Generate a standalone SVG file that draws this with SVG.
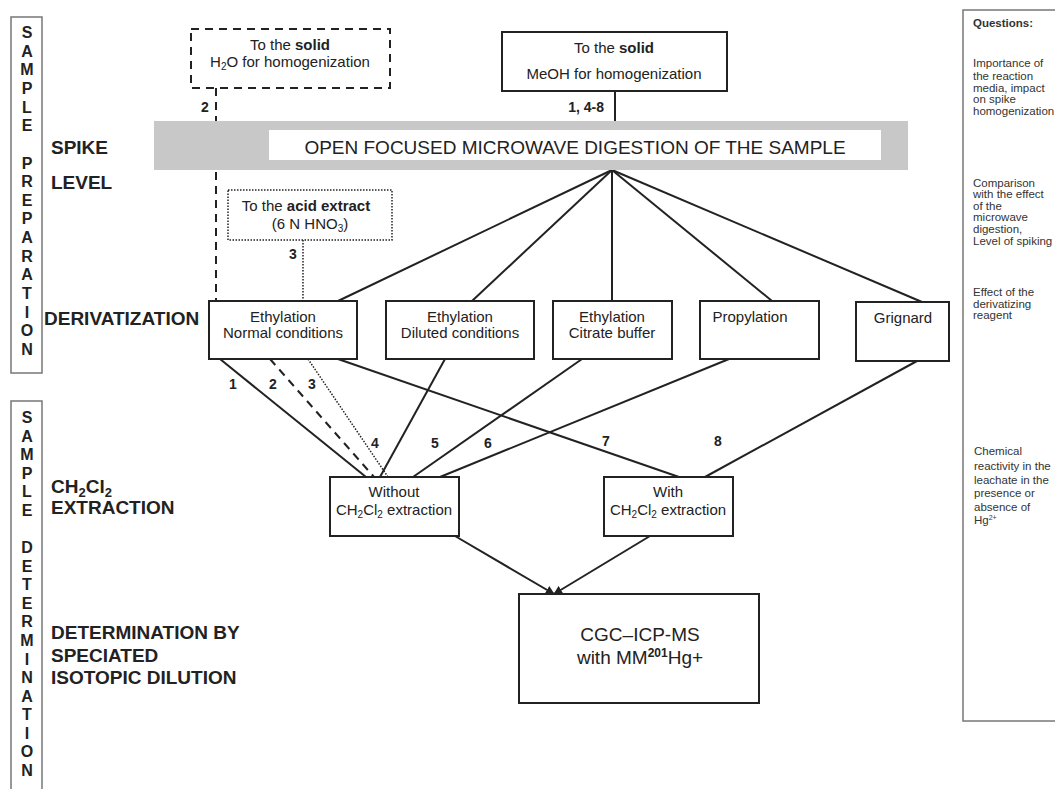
<svg xmlns="http://www.w3.org/2000/svg" width="1055" height="789" viewBox="0 0 1055 789">
<style>
text{font-family:"Liberation Sans",Arial,sans-serif;fill:#222}
.box{fill:#fff;stroke:#222;stroke-width:2}
.side{fill:none;stroke:#777;stroke-width:1.5}
.vl{font-size:16px;font-weight:bold;text-anchor:middle}
.sec{font-size:19px;font-weight:bold}
.bt{font-size:15px;text-anchor:middle}
.num{font-size:14px;font-weight:bold}
.q{font-size:11.5px;fill:#333}
.ln{stroke:#222;stroke-width:2;fill:none}
.dash{stroke:#222;stroke-width:2;fill:none;stroke-dasharray:8 6}
.dot{stroke:#222;stroke-width:1.5;fill:none;stroke-dasharray:1.5 1.5}
</style>
<defs>
<marker id="arr" viewBox="0 0 10 10" refX="9" refY="5" markerWidth="9" markerHeight="9" markerUnits="userSpaceOnUse" orient="auto">
<path d="M0,0 L10,5 L0,10 z" fill="#222"/>
</marker>
</defs>
<rect width="1055" height="789" fill="#fff"/>

<g id="side-labels">
<rect class="side" x="11" y="17" width="31" height="356"/>
<text class="vl"><tspan x="27" y="38">S</tspan><tspan x="27" dy="18.65">A</tspan><tspan x="27" dy="18.65">M</tspan><tspan x="27" dy="18.65">P</tspan><tspan x="27" dy="18.65">L</tspan><tspan x="27" dy="18.65">E</tspan><tspan x="27" dy="37.3">P</tspan><tspan x="27" dy="18.65">R</tspan><tspan x="27" dy="18.65">E</tspan><tspan x="27" dy="18.65">P</tspan><tspan x="27" dy="18.65">A</tspan><tspan x="27" dy="18.65">R</tspan><tspan x="27" dy="18.65">A</tspan><tspan x="27" dy="18.65">T</tspan><tspan x="27" dy="18.65">I</tspan><tspan x="27" dy="18.65">O</tspan><tspan x="27" dy="18.65">N</tspan></text>
<rect class="side" x="11" y="401" width="31" height="400"/>
<text class="vl"><tspan x="27" y="423">S</tspan><tspan x="27" dy="18.58">A</tspan><tspan x="27" dy="18.58">M</tspan><tspan x="27" dy="18.58">P</tspan><tspan x="27" dy="18.58">L</tspan><tspan x="27" dy="18.58">E</tspan><tspan x="27" dy="37.16">D</tspan><tspan x="27" dy="18.58">E</tspan><tspan x="27" dy="18.58">T</tspan><tspan x="27" dy="18.58">E</tspan><tspan x="27" dy="18.58">R</tspan><tspan x="27" dy="18.58">M</tspan><tspan x="27" dy="18.58">I</tspan><tspan x="27" dy="18.58">N</tspan><tspan x="27" dy="18.58">A</tspan><tspan x="27" dy="18.58">T</tspan><tspan x="27" dy="18.58">I</tspan><tspan x="27" dy="18.58">O</tspan><tspan x="27" dy="18.58">N</tspan></text>
<text class="sec" x="51" y="154">SPIKE</text>
<text class="sec" x="51" y="189">LEVEL</text>
<text class="sec" x="44" y="325">DERIVATIZATION</text>
<text class="sec" x="51" y="493">CH<tspan font-size="13" dy="4">2</tspan><tspan dy="-4">Cl</tspan><tspan font-size="13" dy="4">2</tspan></text>
<text class="sec" x="51" y="514">EXTRACTION</text>
<text class="sec" x="51" y="639">DETERMINATION BY</text>
<text class="sec" x="51" y="662">SPECIATED</text>
<text class="sec" x="51" y="684">ISOTOPIC DILUTION</text>
</g>

<g id="connectors">
<line class="dash" x1="216" y1="88" x2="216" y2="301"/>
<line class="ln" x1="615" y1="91" x2="615" y2="121"/>
<line class="dot" x1="303" y1="240" x2="303" y2="301"/>
<line class="ln" x1="612" y1="170" x2="338" y2="301"/>
<line class="ln" x1="612" y1="170" x2="472" y2="301"/>
<line class="ln" x1="612" y1="170" x2="612" y2="301"/>
<line class="ln" x1="612" y1="170" x2="772" y2="301"/>
<line class="ln" x1="612" y1="170" x2="922" y2="302"/>
<line class="ln" x1="220" y1="359" x2="366" y2="477"/>
<line class="dash" x1="270" y1="359" x2="374" y2="477"/>
<line class="dot" x1="308" y1="359" x2="388" y2="477"/>
<line class="ln" x1="338" y1="359" x2="679" y2="477"/>
<line class="ln" x1="445" y1="359" x2="380" y2="477"/>
<line class="ln" x1="582" y1="359" x2="413" y2="477"/>
<line class="ln" x1="729" y1="359" x2="440" y2="477"/>
<line class="ln" x1="917" y1="361" x2="705" y2="477"/>
<line class="ln" x1="455" y1="536" x2="554" y2="594" marker-end="url(#arr)"/>
<line class="ln" x1="650" y1="536" x2="554" y2="594" marker-end="url(#arr)"/>
<text class="num" x="205" y="112" text-anchor="middle">2</text>
<text class="num" x="604" y="112" text-anchor="end">1, 4-8</text>
<text class="num" x="293" y="259" text-anchor="middle">3</text>
<text class="num" x="233" y="389" text-anchor="middle">1</text>
<text class="num" x="273" y="389" text-anchor="middle">2</text>
<text class="num" x="312" y="389" text-anchor="middle">3</text>
<text class="num" x="375" y="448" text-anchor="middle">4</text>
<text class="num" x="435" y="448" text-anchor="middle">5</text>
<text class="num" x="488" y="448" text-anchor="middle">6</text>
<text class="num" x="606" y="446" text-anchor="middle">7</text>
<text class="num" x="718" y="446" text-anchor="middle">8</text>
</g>

<g id="spike-water">
<rect x="191" y="29" width="199" height="59" fill="#fff" stroke="#222" stroke-width="2" stroke-dasharray="8 6"/>
<text class="bt" x="290" y="50">To the <tspan font-weight="bold">solid</tspan></text>
<text class="bt" x="290" y="67">H<tspan font-size="10" dy="3">2</tspan><tspan dy="-3">O for homogenization</tspan></text>
</g>

<g id="spike-meoh">
<rect class="box" x="502" y="32" width="225" height="59"/>
<text class="bt" x="614" y="53">To the <tspan font-weight="bold">solid</tspan></text>
<text class="bt" x="614" y="79">MeOH for homogenization</text>
</g>

<g id="digestion">
<rect x="154" y="121" width="754" height="49" fill="#c8c8c8"/>
<rect x="269" y="130" width="612" height="30" fill="#fff"/>
<text x="575" y="154" font-size="19" text-anchor="middle">OPEN FOCUSED MICROWAVE DIGESTION OF THE SAMPLE</text>
</g>

<g id="spike-acid">
<rect x="228" y="190" width="164" height="50" fill="#fff" stroke="#222" stroke-width="1.5" stroke-dasharray="1.5 1.5"/>
<text class="bt" x="306" y="211">To the <tspan font-weight="bold">acid extract</tspan></text>
<text class="bt" x="310" y="229">(6 N HNO<tspan font-size="10" dy="3">3</tspan><tspan dy="-3">)</tspan></text>
</g>

<g id="eth-normal">
<rect class="box" x="209" y="301" width="148" height="58"/>
<text class="bt" x="283" y="322">Ethylation</text>
<text class="bt" x="283" y="338">Normal conditions</text>
</g>
<g id="eth-diluted">
<rect class="box" x="386" y="301" width="148" height="58"/>
<text class="bt" x="460" y="322">Ethylation</text>
<text class="bt" x="460" y="338">Diluted conditions</text>
</g>
<g id="eth-citrate">
<rect class="box" x="553" y="301" width="119" height="58"/>
<text class="bt" x="612" y="322">Ethylation</text>
<text class="bt" x="612" y="338">Citrate buffer</text>
</g>
<g id="propylation">
<rect class="box" x="700" y="301" width="119" height="58"/>
<text class="bt" x="750" y="322">Propylation</text>
</g>
<g id="grignard">
<rect class="box" x="856" y="302" width="93" height="59"/>
<text class="bt" x="903" y="323">Grignard</text>
</g>

<g id="without-extraction">
<rect class="box" x="330" y="477" width="129" height="59"/>
<text class="bt" x="394" y="497">Without</text>
<text class="bt" x="394" y="515">CH<tspan font-size="10" dy="3">2</tspan><tspan dy="-3">Cl</tspan><tspan font-size="10" dy="3">2</tspan><tspan dy="-3"> extraction</tspan></text>
</g>
<g id="with-extraction">
<rect class="box" x="604" y="477" width="129" height="59"/>
<text class="bt" x="668" y="497">With</text>
<text class="bt" x="668" y="515">CH<tspan font-size="10" dy="3">2</tspan><tspan dy="-3">Cl</tspan><tspan font-size="10" dy="3">2</tspan><tspan dy="-3"> extraction</tspan></text>
</g>

<g id="cgc-icp-ms">
<rect class="box" x="519" y="594" width="240" height="109"/>
<text x="640" y="641" font-size="19" text-anchor="middle">CGC–ICP-MS</text>
<text x="640" y="664" font-size="19" text-anchor="middle">with MM<tspan font-size="12" font-weight="bold" dy="-7">201</tspan><tspan dy="7">Hg+</tspan></text>
</g>

<g id="questions">
<rect class="side" x="963" y="10" width="100" height="711"/>
<text class="q" x="973" y="27" font-weight="bold">Questions:</text>
<text class="q"><tspan x="973" y="67">Importance of</tspan><tspan x="973" y="80">the reaction</tspan><tspan x="973" y="92">media, impact</tspan><tspan x="973" y="103">on spike</tspan><tspan x="973" y="115">homogenization</tspan></text>
<text class="q"><tspan x="973" y="187">Comparison</tspan><tspan x="973" y="198">with the effect</tspan><tspan x="973" y="210">of the</tspan><tspan x="973" y="221">microwave</tspan><tspan x="973" y="233">digestion,</tspan><tspan x="973" y="245">Level of spiking</tspan></text>
<text class="q"><tspan x="973" y="296">Effect of the</tspan><tspan x="973" y="308">derivatizing</tspan><tspan x="973" y="319">reagent</tspan></text>
<text class="q"><tspan x="974" y="455">Chemical</tspan><tspan x="974" y="470">reactivity in the</tspan><tspan x="974" y="484">leachate in the</tspan><tspan x="974" y="497">presence or</tspan><tspan x="974" y="511">absence of</tspan><tspan x="974" y="524">Hg<tspan font-size="7" dy="-4">2+</tspan></tspan></text>
</g>
</svg>
